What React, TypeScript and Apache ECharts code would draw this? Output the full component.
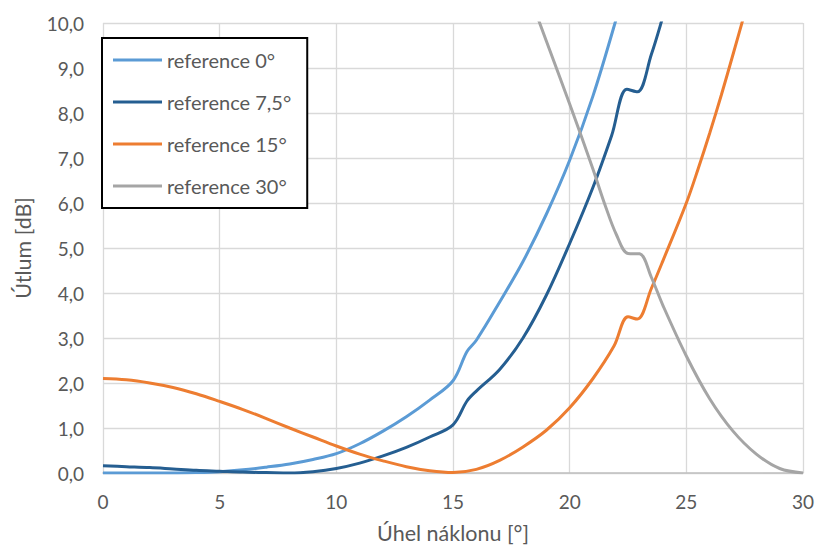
import React, { useEffect, useRef } from "react";
import * as echarts from "echarts";

const seriesNames = ["reference 0°", "reference 7,5°", "reference 15°", "reference 30°"];
const seriesColors = ["#5B9BD5", "#255E91", "#ED7D31", "#A5A5A5"];

// [úhel náklonu, útlum]
const ref0: [number, number][] = [
  [0, 0], [1, 0], [2, 0], [3, 0], [4, 0.01], [5, 0.03], [6, 0.07], [7, 0.13],
  [8, 0.2], [9, 0.3], [10, 0.43], [11, 0.65], [12, 0.93], [13, 1.25], [14, 1.62],
  [15, 2.05], [15.6, 2.7], [16, 2.95], [17, 3.8], [18, 4.7], [19, 5.75],
  [20, 6.95], [21, 8.38], [22, 10.1], [22.3, 10.7],
];
const ref75: [number, number][] = [
  [0, 0.16], [1, 0.14], [2, 0.12], [3, 0.09], [4, 0.06], [5, 0.04], [6, 0.02],
  [7, 0.01], [8, 0.0], [9, 0.03], [10, 0.1], [11, 0.22], [12, 0.38], [13, 0.57],
  [14, 0.8], [15, 1.07], [15.6, 1.6], [16, 1.82], [17, 2.3], [18, 3.0],
  [19, 3.95], [20, 5.1], [21, 6.35], [21.8, 7.5], [22.45, 8.53], [22.9, 8.47],
  [23.5, 9.3], [24, 10.15], [24.3, 10.7],
];
const ref15: [number, number][] = [
  [0, 2.1], [1, 2.07], [2, 2.0], [3, 1.9], [4, 1.76], [5, 1.59], [6, 1.41],
  [7, 1.21], [8, 1.0], [9, 0.8], [10, 0.6], [11, 0.42], [12, 0.27], [13, 0.14],
  [14, 0.05], [15, 0.01], [16, 0.08], [17, 0.28], [18, 0.58], [19, 0.95],
  [20, 1.45], [21, 2.1], [21.9, 2.82], [22.5, 3.47], [22.9, 3.42], [23.5, 4.1],
  [24, 4.72], [25, 6.0], [25.5, 6.75], [26, 7.55], [26.5, 8.4], [27, 9.3], [27.6, 10.4],
];
const ref30: [number, number][] = [
  [18, 11.0], [19, 9.6], [20, 8.2], [21, 6.75], [21.5, 5.98], [22, 5.3],
  [22.5, 4.88], [23, 4.87], [23.5, 4.35], [24, 3.72], [25, 2.6], [26, 1.65],
  [27, 0.93], [28, 0.42], [29, 0.1], [30, 0],
];
const seriesData = [ref0, ref75, ref15, ref30];

const xTitle = "Úhel náklonu [°]";
const yTitle = "Útlum [dB]";

export default function App() {
  const ref = useRef<HTMLDivElement>(null);
  useEffect(() => {
    document.body.style.margin = "0";
    if (!ref.current) return;
    const chart = echarts.init(ref.current, undefined, { renderer: "svg" });
    const font = "Lato, 'Liberation Sans', sans-serif";
    chart.setOption({
      animation: false,
      backgroundColor: "#ffffff",
      textStyle: { fontFamily: font },
      grid: { left: 103, right: 15, top: 23, bottom: 70, containLabel: false },
      legend: {
        orient: "vertical",
        left: 102,
        top: 38,
        data: seriesNames,
        icon: "rect",
        itemWidth: 49,
        itemHeight: 3,
        itemGap: 22,
        padding: [12, 16, 12, 11],
        backgroundColor: "#ffffff",
        borderColor: "#000000",
        borderWidth: 2,
        textStyle: { fontFamily: font, fontSize: 20, color: "#595959", padding: [0, 0, 0, 0] },
      },
      xAxis: {
        type: "value",
        min: 0,
        max: 30,
        interval: 5,
        name: xTitle,
        nameLocation: "middle",
        nameGap: 49,
        nameTextStyle: { fontFamily: font, fontSize: 21.5, color: "#595959" },
        axisLine: { show: true, lineStyle: { color: "#BFBFBF", width: 1.5 } },
        axisTick: { show: false },
        axisLabel: { fontFamily: font, fontSize: 19, color: "#595959", margin: 19 },
        splitLine: { show: true, lineStyle: { color: "#D9D9D9", width: 1.3 } },
      },
      yAxis: {
        type: "value",
        min: 0,
        max: 10,
        interval: 1,
        name: yTitle,
        nameLocation: "middle",
        nameGap: 69,
        nameTextStyle: { fontFamily: font, fontSize: 21.5, color: "#595959" },
        axisLine: { show: false },
        axisTick: { show: false },
        axisLabel: {
          fontFamily: font,
          fontSize: 19,
          color: "#595959",
          margin: 19,
          formatter: (v: number) => v.toFixed(1).replace(".", ","),
        },
        splitLine: { show: true, lineStyle: { color: "#D9D9D9", width: 1.3 } },
      },
      series: seriesNames.map((name, i) => ({
        name,
        type: "line",
        data: seriesData[i],
        smooth: 0.35,
        symbol: "none",
        clip: true,
        color: seriesColors[i],
        lineStyle: { color: seriesColors[i], width: 3 },
      })),
    });
    return () => chart.dispose();
  }, []);
  return <div ref={ref} style={{ width: 818, height: 549 }} />;
}
